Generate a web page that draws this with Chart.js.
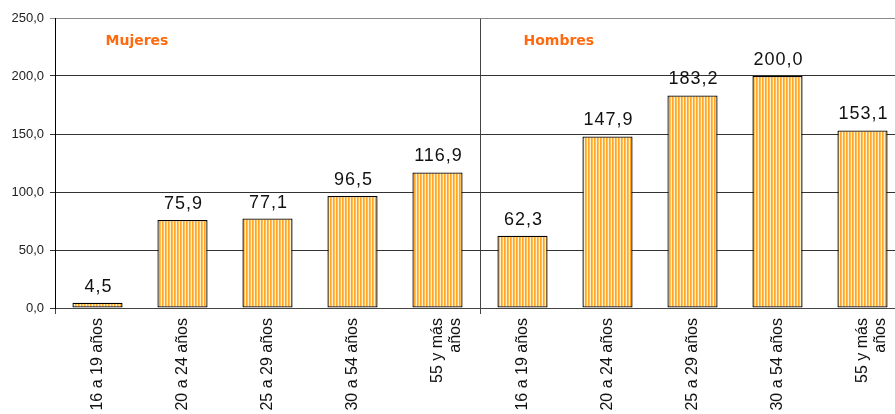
<!DOCTYPE html>
<html>
<head>
<meta charset="utf-8">
<script src="https://cdn.jsdelivr.net/npm/chart.js@4/dist/chart.umd.min.js"></script>
<style>
  html, body { margin: 0; padding: 0; background: #fff; overflow: hidden; }
  #wrap { position: relative; width: 905px; height: 414px; }
</style>
</head>
<body>
<div id="wrap"><canvas id="c"></canvas></div>
<script>
// ---- data ----
const groups = ["Mujeres", "Hombres"];
const categories = [
  "16 a 19 años", "20 a 24 años", "25 a 29 años", "30 a 54 años", ["55 y más", "años"],
  "16 a 19 años", "20 a 24 años", "25 a 29 años", "30 a 54 años", ["55 y más", "años"]
];
const values = [4.5, 75.9, 77.1, 96.5, 116.9, 62.3, 147.9, 183.2, 200.0, 153.1];
const yTicks = [0, 50, 100, 150, 200, 250];
const groupStartIndex = [0, 5];
const groupTitleShift = [8, 1];

// striped pattern fill
function makePattern() {
  const p = document.createElement('canvas');
  p.width = 3; p.height = 4;
  const g = p.getContext('2d');
  g.fillStyle = '#FFA62A'; g.fillRect(0, 0, 3, 4);
  g.fillStyle = '#FFBF55'; g.fillRect(1, 0, 1, 4);
  g.fillStyle = '#FFF0CC'; g.fillRect(2, 0, 1, 4);
  return document.getElementById('c').getContext('2d').createPattern(p, 'repeat');
}
const fmt = v => v.toFixed(1).replace('.', ',');

const labelsPlugin = {
  id: 'valueLabels',
  afterDatasetsDraw(chart) {
    const ctx = chart.ctx;
    const meta = chart.getDatasetMeta(0);
    ctx.save();
    ctx.font = '18px "Liberation Sans", Arial, sans-serif';
    if ('letterSpacing' in ctx) ctx.letterSpacing = '1px';
    ctx.fillStyle = '#111';
    ctx.textAlign = 'center';
    ctx.textBaseline = 'alphabetic';
    meta.data.forEach((bar, i) => {
      ctx.fillText(fmt(values[i]), bar.x + 1, bar.y - 11);
    });
    ctx.restore();
    // group titles
    const xs = chart.scales.x;
    ctx.save();
    ctx.font = 'bold 14px "DejaVu Sans", Verdana, sans-serif';
    ctx.fillStyle = '#FF6A10';
    ctx.textAlign = 'left';
    ctx.textBaseline = 'middle';
    groups.forEach((g, k) => {
      ctx.fillText(g, xs.getPixelForValue(groupStartIndex[k]) + groupTitleShift[k], chart.chartArea.top + 23);
    });
    ctx.restore();
  }
};

new Chart(document.getElementById('c'), {
  type: 'bar',
  data: {
    labels: categories,
    datasets: [{
      data: values,
      backgroundColor: makePattern(),
      borderColor: '#000',
      borderWidth: 1.3,
      borderSkipped: false,
      inflateAmount: 0,
      barPercentage: 0.59,
      categoryPercentage: 1.0
    }]
  },
  options: {
    responsive: true,
    maintainAspectRatio: false,
    animation: false,
    layout: { padding: { top: 18, left: 0, right: 0, bottom: 0 } },
    plugins: { legend: { display: false }, tooltip: { enabled: false } },
    scales: {
      x: {
        offset: true,
        afterFit: s => { s.height = 106; },
        grid: {
          offset: true,
          color: c => (c.index === 0 || c.index === 5) ? '#444' : 'rgba(0,0,0,0)',
          lineWidth: 1,
          tickLength: 6,
          drawOnChartArea: true
        },
        border: { color: '#444', width: 1 },
        ticks: {
          autoSkip: false,
          minRotation: 90,
          maxRotation: 90,
          padding: 4,
          color: '#111',
          font: { family: '"Liberation Sans", Arial, sans-serif', size: 16, lineHeight: 1.15 }
        }
      },
      y: {
        min: 0,
        max: 250,
        afterFit: s => { s.width = 55; },
        afterBuildTicks: s => { s.ticks = yTicks.map(v => ({ value: v })); },
        grid: {
          color: c => (c.tick && c.tick.value === 250) ? '#8a8a8a' : '#333',
          tickLength: 5
        },
        border: { color: '#000', width: 1 },
        ticks: {
          padding: 6,
          color: '#222',
          callback: v => fmt(v),
          font: { family: '"Liberation Sans", Arial, sans-serif', size: 13 }
        }
      }
    }
  },
  plugins: [labelsPlugin]
});
</script>
</body>
</html>
